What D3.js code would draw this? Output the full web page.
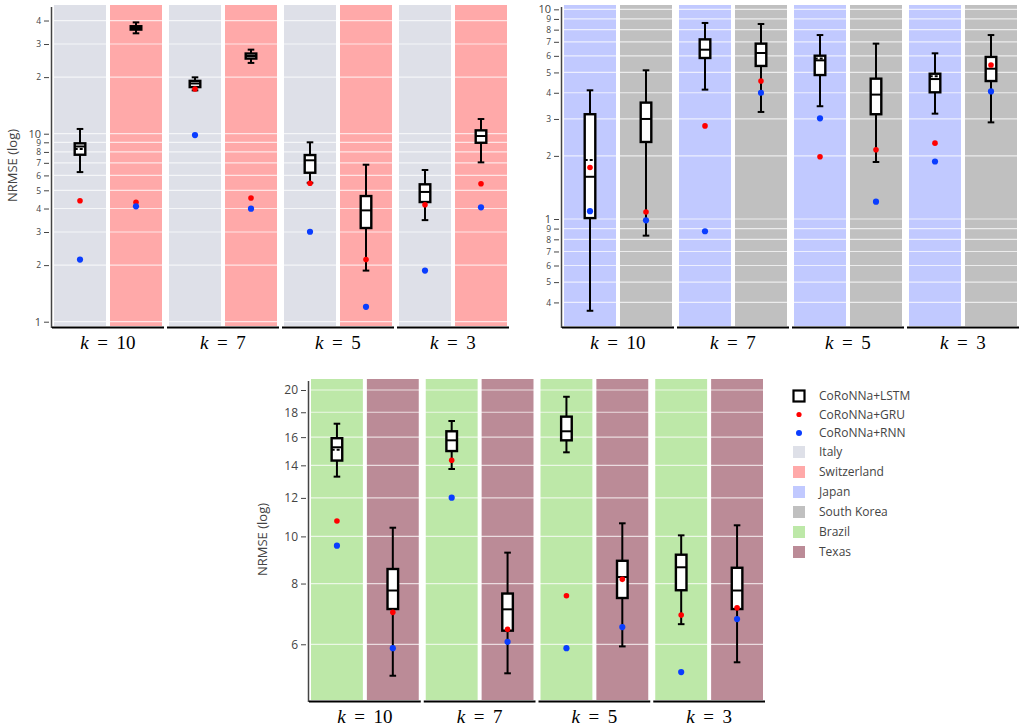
<!DOCTYPE html>
<html><head><meta charset="utf-8">
<script src="https://cdn.jsdelivr.net/npm/d3@7"></script>
<style>
body{margin:0;background:#fff;}
svg{display:block;}
</style></head>
<body>
<svg id="chart" width="1021" height="726"></svg>
<script>
// ---------------- DATA ----------------
const kLabels = ["10", "7", "5", "3"];
const countries = ["Italy", "Switzerland", "Japan", "South Korea", "Brazil", "Texas"];
const models = ["CoRoNNa+LSTM", "CoRoNNa+GRU", "CoRoNNa+RNN"];

// LSTM box stats per k: [lowerWhisker, q1, median, q3, upperWhisker, mean]
const italyLSTM = [
  [6.25, 7.73, 8.55, 8.89, 10.6, 8.3],
  [17.0, 17.7, 18.5, 19.1, 19.95, null],
  [5.48, 6.20, 7.22, 7.70, 9.0, null],
  [3.47, 4.33, 4.90, 5.38, 6.41, null]
];
const italyGRU = [4.40, 17.3, 5.45, 4.19];
const italyRNN = [2.14, 9.84, 3.01, 1.87];

const switzerlandLSTM = [
  [34.2, 35.8, 36.5, 37.3, 39.1, null],
  [23.8, 25.1, 25.9, 26.7, 28.0, null],
  [1.87, 3.15, 3.91, 4.66, 6.84, null],
  [7.04, 8.95, 9.72, 10.42, 11.97, null]
];
const switzerlandGRU = [4.32, 4.55, 2.14, 5.42];
const switzerlandRNN = [4.11, 3.99, 1.20, 4.06];

const japanLSTM = [
  [0.365, 1.01, 1.59, 3.16, 4.11, 1.91],
  [4.14, 5.86, 6.42, 7.19, 8.61, null],
  [3.45, 4.86, 5.71, 6.01, 7.54, 5.82],
  [3.18, 4.02, 4.65, 4.93, 6.17, 4.79]
];
const japanGRU = [1.76, 2.78, 1.98, 2.30];
const japanRNN = [1.09, 0.874, 3.02, 1.88];

const southKoreaLSTM = [
  [0.833, 2.33, 3.00, 3.59, 5.12, null],
  [3.24, 5.37, 6.19, 6.86, 8.51, null],
  [1.87, 3.16, 3.92, 4.67, 6.86, null],
  [2.89, 4.55, 5.21, 5.93, 7.54, null]
];
const southKoreaGRU = [1.08, 4.55, 2.14, 5.43];
const southKoreaRNN = [0.986, 4.00, 1.21, 4.06];

const brazilLSTM = [
  [13.27, 14.32, 15.25, 15.92, 17.05, 15.07],
  [13.76, 14.98, 15.76, 16.45, 17.27, null],
  [14.89, 15.76, 16.45, 17.63, 19.37, null],
  [6.60, 7.75, 8.64, 9.17, 10.05, null]
];
const brazilGRU = [10.76, 14.34, 7.55, 6.89];
const brazilRNN = [9.57, 12.01, 5.89, 5.26];

const texasLSTM = [
  [5.17, 7.09, 7.74, 8.57, 10.42, null],
  [5.23, 6.40, 7.08, 7.63, 9.26, null],
  [5.94, 7.47, 8.25, 8.91, 10.64, null],
  [5.51, 7.09, 7.74, 8.62, 10.54, null]
];
const texasGRU = [6.98, 6.44, 8.16, 7.13];
const texasRNN = [5.89, 6.07, 6.51, 6.76];

// tick values for the three log axes
const ticksTopLeft = [1, 2, 3, 4, 5, 6, 7, 8, 9, 10, 20, 30, 40];
const ticksTopRight = [0.4, 0.5, 0.6, 0.7, 0.8, 0.9, 1, 2, 3, 4, 5, 6, 7, 8, 9, 10];
const ticksBottom = [6, 8, 10, 12, 14, 16, 18, 20];

// ---------------- STYLE ----------------
const countryColors = ["#dee0e8", "#ffa9a9", "#c1c9ff", "#c0c0c0", "#bde8a8", "#bb8b97"];
const gruColor = "#ff0000";
const rnnColor = "#0a3dff";

const seriesByCountry = [
  {box: italyLSTM, gru: italyGRU, rnn: italyRNN},
  {box: switzerlandLSTM, gru: switzerlandGRU, rnn: switzerlandRNN},
  {box: japanLSTM, gru: japanGRU, rnn: japanRNN},
  {box: southKoreaLSTM, gru: southKoreaGRU, rnn: southKoreaRNN},
  {box: brazilLSTM, gru: brazilGRU, rnn: brazilRNN},
  {box: texasLSTM, gru: texasGRU, rnn: texasRNN}
];

const panels = [
  {pair: [0, 1], x0: 52, x1: 509, y0: 5, y1: 326, domain: [0.9487, 48.38], ticks: ticksTopLeft, title: true, minorSmall: true},
  {pair: [2, 3], x0: 562, x1: 1019, y0: 5, y1: 326, domain: [0.3088, 10.487], ticks: ticksTopRight, title: false, minorSmall: true},
  {pair: [4, 5], x0: 309, x1: 765, y0: 379, y1: 700, domain: [4.609, 21.07], ticks: ticksBottom, title: true, minorSmall: false}
];

const svg = d3.select("#chart");
const FONT = "'Open Sans', 'Noto Sans', sans-serif";
const GAP = 3;

function isPow10(v) {
  const l = Math.log10(v);
  return Math.abs(l - Math.round(l)) < 1e-9;
}

panels.forEach(p => {
  const g = svg.append("g");
  const y = d3.scaleLog().domain(p.domain).range([p.y1, p.y0]);
  const outer = d3.scaleBand().domain(kLabels).range([p.x0, p.x1 + GAP]).paddingInner(0);
  const subW = outer.bandwidth() - GAP;
  const pairNames = p.pair.map(i => countries[i]);
  const inner = d3.scaleBand().domain(pairNames).range([0, subW]);

  // strips
  kLabels.forEach(k => {
    pairNames.forEach((c, j) => {
      g.append("rect")
        .attr("x", outer(k) + inner(c) + 2)
        .attr("y", p.y0)
        .attr("width", inner.bandwidth() - 4)
        .attr("height", p.y1 - p.y0)
        .attr("fill", countryColors[p.pair[j]]);
    });
  });

  // grid lines
  g.append("g").selectAll("line").data(p.ticks).join("line")
    .attr("x1", p.x0).attr("x2", p.x1)
    .attr("y1", d => y(d)).attr("y2", d => y(d))
    .attr("stroke", "#ffffff").attr("stroke-opacity", 0.7).attr("stroke-width", 1.2);

  // y axis
  const ax = g.append("g").attr("transform", `translate(${p.x0 - 1},0)`)
    .call(d3.axisLeft(y).tickValues(p.ticks).tickSize(6).tickPadding(4)
      .tickFormat(d => {
        if (isPow10(d) || !p.minorSmall) return d3.format("~g")(d);
        return String(Math.round(d / Math.pow(10, Math.floor(Math.log10(d) + 1e-9))));
      }));
  ax.select(".domain").remove();
  ax.selectAll(".tick line").attr("stroke", "#444").attr("transform", "translate(-2,0)").attr("x2", -5);
  ax.selectAll(".tick text")
    .attr("fill", "#444")
    .attr("dy", "0.33em")
    .style("font-family", FONT)
    .style("font-size", d => !p.minorSmall ? "12px" : (isPow10(d) ? "11px" : "8.5px"));
  g.append("line")
    .attr("x1", p.x0 - 0.5).attr("x2", p.x0 - 0.5)
    .attr("y1", p.y0 + 2).attr("y2", p.y1 + 2)
    .attr("stroke", "#444").attr("stroke-width", 1.5);

  // x axis lines and labels
  kLabels.forEach(k => {
    g.append("line")
      .attr("x1", outer(k)).attr("x2", outer(k) + subW)
      .attr("y1", p.y1 + 1.5).attr("y2", p.y1 + 1.5)
      .attr("stroke", "#000").attr("stroke-width", 2);
    const t = g.append("text")
      .attr("x", outer(k) + subW / 2)
      .attr("y", p.y1 + 23)
      .attr("text-anchor", "middle")
      .style("font-family", "'Liberation Serif', 'DejaVu Serif', serif")
      .style("font-size", "19px")
      .attr("fill", "#000");
    t.append("tspan").style("font-style", "italic").text("k");
    t.append("tspan").text("\u2009 = \u2009" + k);
  });

  // boxes and points
  kLabels.forEach((k, ki) => {
    pairNames.forEach((c, j) => {
      const s = seriesByCountry[p.pair[j]];
      const cx = outer(k) + inner(c) + inner.bandwidth() / 2;
      const [lo, q1, med, q3, hi, mean] = s.box[ki];
      const bw = 10.6, cap = 3.3, sw = 2.4;
      const bg = g.append("g");
      // whiskers
      bg.append("line").attr("x1", cx).attr("x2", cx).attr("y1", y(hi)).attr("y2", y(q3))
        .attr("stroke", "#000").attr("stroke-width", 2);
      bg.append("line").attr("x1", cx).attr("x2", cx).attr("y1", y(q1)).attr("y2", y(lo))
        .attr("stroke", "#000").attr("stroke-width", 2);
      [lo, hi].forEach(v => {
        bg.append("line").attr("x1", cx - cap).attr("x2", cx + cap).attr("y1", y(v)).attr("y2", y(v))
          .attr("stroke", "#000").attr("stroke-width", 2);
      });
      // box
      bg.append("rect").attr("x", cx - bw / 2).attr("y", y(q3))
        .attr("width", bw).attr("height", Math.max(0.5, y(q1) - y(q3)))
        .attr("fill", "#fff").attr("stroke", "#000").attr("stroke-width", sw);
      bg.append("line").attr("x1", cx - bw / 2).attr("x2", cx + bw / 2).attr("y1", y(med)).attr("y2", y(med))
        .attr("stroke", "#000").attr("stroke-width", 2);
      if (mean != null) {
        bg.append("line").attr("x1", cx - bw / 2).attr("x2", cx + bw / 2).attr("y1", y(mean)).attr("y2", y(mean))
          .attr("stroke", "#000").attr("stroke-width", 2).attr("stroke-dasharray", "3,2");
      }
      // GRU and RNN points
      g.append("circle").attr("cx", cx).attr("cy", y(s.gru[ki])).attr("r", 2.8).attr("fill", gruColor);
      g.append("circle").attr("cx", cx).attr("cy", y(s.rnn[ki])).attr("r", 3.1).attr("fill", rnnColor);
    });
  });

  // y title
  if (p.title) {
    const tx = p === panels[0] ? 12 : 262;
    const ty = (p.y0 + p.y1) / 2;
    g.append("text")
      .attr("transform", `translate(${tx},${ty}) rotate(-90)`)
      .attr("text-anchor", "middle")
      .attr("dy", "0.35em")
      .style("font-family", FONT)
      .style("font-size", "13px")
      .attr("fill", "#444")
      .text("NRMSE (log)");
  }
});

// ---------------- LEGEND ----------------
const legend = svg.append("g");
const legendItems = [
  {label: models[0], type: "box"},
  {label: models[1], type: "gru"},
  {label: models[2], type: "rnn"},
  ...countries.map((c, i) => ({label: c, type: "swatch", color: countryColors[i]}))
];
const legendY = [396, 414.5, 433, 452, 472, 492, 512, 532, 552];
legendItems.forEach((it, i) => {
  const cy = legendY[i];
  if (it.type === "box") {
    legend.append("rect").attr("x", 793.5).attr("y", cy - 5.5).attr("width", 11).attr("height", 11)
      .attr("fill", "#fff").attr("stroke", "#000").attr("stroke-width", 2.2);
  } else if (it.type === "gru") {
    legend.append("circle").attr("cx", 799).attr("cy", cy).attr("r", 2.6).attr("fill", gruColor);
  } else if (it.type === "rnn") {
    legend.append("circle").attr("cx", 799).attr("cy", cy).attr("r", 3).attr("fill", rnnColor);
  } else {
    legend.append("rect").attr("x", 793).attr("y", cy - 6).attr("width", 12).attr("height", 12)
      .attr("fill", it.color);
  }
  legend.append("text").attr("x", 819).attr("y", cy).attr("dy", "0.35em")
    .style("font-family", FONT).style("font-size", "12px").attr("fill", "#444")
    .text(it.label);
});
</script>
</body></html>
